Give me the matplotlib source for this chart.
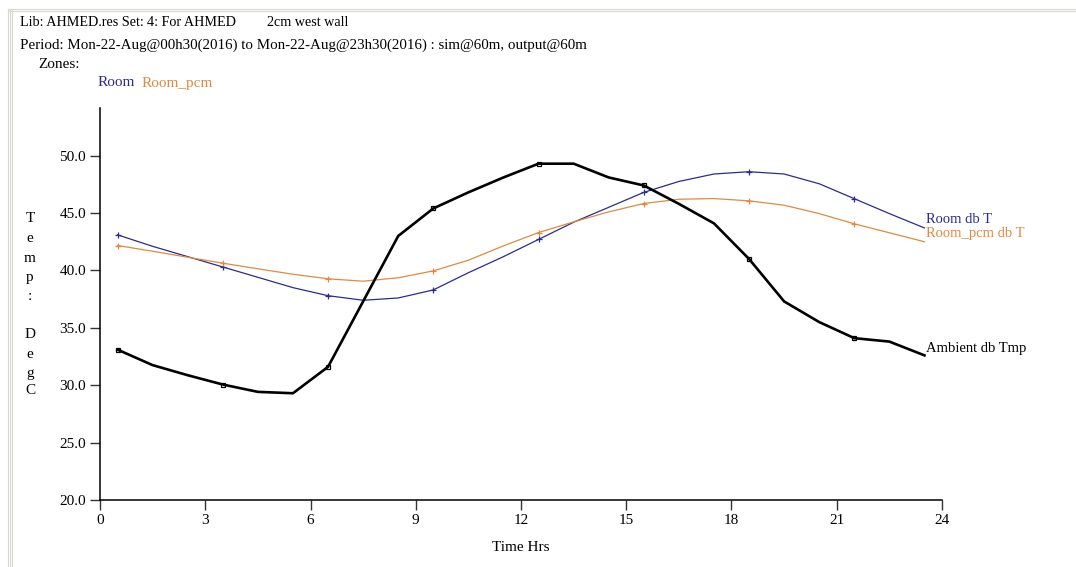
import matplotlib
matplotlib.use("Agg")
import matplotlib.pyplot as plt
from matplotlib.lines import Line2D

plt.rcParams['font.family'] = ['Liberation Serif', 'DejaVu Serif']

hours = [h + 0.5 for h in range(24)]
ambient = [33.1, 31.75, 30.87, 30.06, 29.42, 29.3, 31.6, 37.3, 43.0, 45.4, 46.8, 48.1,
           49.3, 49.3, 48.1, 47.4, 45.8, 44.1, 41.0, 37.3, 35.5, 34.1, 33.8, 32.6]
room = [43.1, 42.1, 41.2, 40.3, 39.4, 38.5, 37.8, 37.4, 37.6, 38.3, 39.8, 41.2,
        42.7, 44.2, 45.5, 46.8, 47.75, 48.4, 48.6, 48.4, 47.55, 46.25, 44.95, 43.7]
room_pcm = [42.17, 41.67, 41.15, 40.63, 40.14, 39.67, 39.27, 39.06, 39.36, 39.96, 40.89, 42.14,
            43.3, 44.23, 45.1, 45.83, 46.2, 46.26, 46.06, 45.68, 44.95, 44.06, 43.28, 42.5]
xticks = [0, 3, 6, 9, 12, 15, 18, 21, 24]
yticks = [20, 25, 30, 35, 40, 45, 50]

blue = '#2c2c8c'
orange = '#e08a40'

fig = plt.figure(figsize=(10.76, 5.67), dpi=100)
ax = fig.add_axes([100/1076, 67/567, 842/1076, 392/567])

ax.plot(hours, room, color=blue, lw=0.9, marker='+', ms=4, mew=0.9, markevery=(0, 3))
ax.plot(hours, room_pcm, color=orange, lw=0.9, marker='+', ms=4, mew=0.9, markevery=(0, 3))
ax.plot(hours, ambient, color='black', lw=1.9, marker='s', ms=3.5, mfc='none', mew=0.9, markevery=(0, 3))

ax.text(hours[-1] + 0.05, room[-1] + 0.2, 'Room db T', color=blue, fontsize=10.5, va='bottom', ha='left')
ax.text(hours[-1] + 0.05, room_pcm[-1] + 0.15, 'Room_pcm db T', color=orange, fontsize=10.5, va='bottom', ha='left')
ax.text(hours[-1] + 0.05, ambient[-1] + 0.05, 'Ambient db Tmp', color='black', fontsize=10.5, va='bottom', ha='left')

ax.set_xlim(0, 24)
ax.set_ylim(20, 54.15)
ax.set_xticks(xticks)
ax.set_xticklabels([str(t) for t in xticks], fontsize=11)
ax.set_yticks(yticks)
ax.set_yticklabels(['%.1f' % t for t in yticks], fontsize=11)
ax.tick_params(axis='both', direction='out', length=7, width=1, color='#333333', pad=3)
for s in ['top', 'right']:
    ax.spines[s].set_visible(False)
for s in ['left', 'bottom']:
    ax.spines[s].set_linewidth(1.1)
ax.set_xlabel('Time Hrs', fontsize=11, labelpad=10)

# y label as stacked letters
ylab = ['T', 'e', 'm', 'p', ':', '', 'D', 'e', 'g', 'C']
ypos = [218, 238, 258, 278, 297, 316, 335, 355, 373, 390]
for ch, yp in zip(ylab, ypos):
    if ch:
        fig.text(30/1076, 1 - yp/567, ch, fontsize=11, ha='center', va='center')

# header texts
fig.text(20/1076, 1 - 23/567, 'Lib: AHMED.res Set:', fontsize=10.2, va='center')
fig.text(147/1076, 1 - 23/567, '4: For AHMED', fontsize=10.2, va='center')
fig.text(267/1076, 1 - 23/567, '2cm west wall', fontsize=10.2, va='center')
fig.text(20/1076, 1 - 45/567, 'Period: Mon-22-Aug@00h30(2016) to Mon-22-Aug@23h30(2016) : sim@60m, output@60m', fontsize=10.8, va='center')
fig.text(38/1076, 1 - 64/567, 'Zones:', fontsize=11, va='center')
fig.text(98/1076, 1 - 83/567, 'Room', fontsize=11, va='center', color=blue)
fig.text(142/1076, 1 - 83/567, 'Room_pcm', fontsize=11, va='center', color=orange)

# window frame lines
for xp in [8, 10, 12]:
    fig.add_artist(Line2D([xp/1076, xp/1076], [0, 1 - 9/567], color='#d8d8d2', lw=0.8))
for yp in [9, 11]:
    fig.add_artist(Line2D([8/1076, 1], [1 - yp/567, 1 - yp/567], color='#d8d8d2', lw=0.8))

fig.savefig('out.png', dpi=100)
